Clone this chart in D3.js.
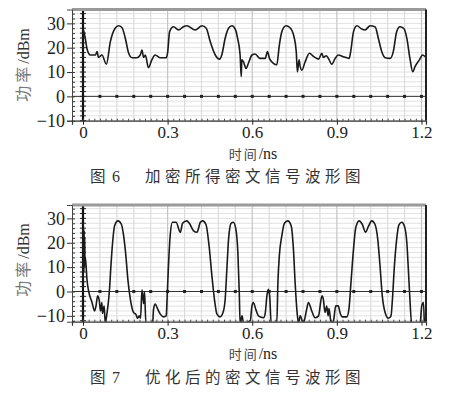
<!DOCTYPE html>
<html>
<head>
<meta charset="utf-8">
<script src="https://cdn.jsdelivr.net/npm/d3@7"></script>
<style>
  body { margin: 0; background: #fff; }
  svg { display: block; }
</style>
</head>
<body>
<div id="chart"></div>
<script>
// tick labels
const xTicks = [0, 0.3, 0.6, 0.9, 1.2]
const yTicks = [-10, 0, 10, 20, 30]

// fig 6: encrypted signal (time in ns, power in dBm)
const sig6Time = [0.000, 0.008, 0.014, 0.026, 0.044, 0.050, 0.055, 0.067, 0.083, 0.097, 0.114, 0.126, 0.138, 0.150, 0.162, 0.174, 0.191, 0.203, 0.209, 0.215, 0.221, 0.232, 0.244, 0.256, 0.274, 0.295, 0.300, 0.307, 0.321, 0.339, 0.356, 0.368, 0.398, 0.422, 0.437, 0.451, 0.469, 0.484, 0.492, 0.504, 0.516, 0.528, 0.540, 0.548, 0.557, 0.561, 0.563, 0.569, 0.578, 0.587, 0.599, 0.610, 0.628, 0.646, 0.654, 0.661, 0.675, 0.687, 0.696, 0.705, 0.720, 0.734, 0.748, 0.756, 0.760, 0.766, 0.770, 0.776, 0.787, 0.803, 0.817, 0.835, 0.847, 0.852, 0.862, 0.870, 0.882, 0.894, 0.905, 0.923, 0.944, 0.949, 0.959, 0.971, 0.988, 1.000, 1.018, 1.036, 1.047, 1.059, 1.071, 1.089, 1.100, 1.112, 1.124, 1.138, 1.148, 1.159, 1.169, 1.177, 1.192, 1.204, 1.213]
const sig6Power = [28, 23.9, 19.7, 17, 17, 18.4, 16, 17, 13.2, 22.5, 28, 29, 28.3, 23.9, 17.7, 15.9, 15.9, 17, 19, 16, 17, 11.8, 15, 17, 15.9, 15.9, 18, 26.6, 28.6, 27.3, 28.6, 29, 27.3, 29, 28, 22.5, 17, 15.3, 17, 23.9, 28, 29, 27.5, 23.9, 17, 8.1, 15, 14.2, 11.5, 13.8, 17, 17.4, 15.6, 15.6, 18.4, 15.6, 13.6, 13, 21, 26.6, 29, 28.2, 24.5, 18.4, 10.1, 15, 12.2, 10.8, 14, 17.7, 16.4, 15.3, 17.7, 16, 16.7, 15.6, 13.2, 15.6, 17, 16.3, 15.6, 18.4, 26.6, 29, 27.7, 27.3, 29, 28.5, 23.9, 18.4, 15.9, 15.6, 18.4, 26.6, 28.6, 27.8, 23.9, 15.6, 10.1, 12.2, 14.9, 17, 16.3]

// fig 7: optimised encrypted signal
const sig7Time = [0.000, 0.001, 0.002, 0.003, 0.004, 0.005, 0.006, 0.007, 0.008, 0.011, 0.014, 0.020, 0.032, 0.041, 0.046, 0.052, 0.058, 0.062, 0.067, 0.069, 0.075, 0.079, 0.085, 0.091, 0.094, 0.099, 0.105, 0.112, 0.124, 0.136, 0.144, 0.152, 0.159, 0.168, 0.179, 0.188, 0.193, 0.199, 0.204, 0.209, 0.215, 0.218, 0.223, 0.247, 0.250, 0.256, 0.264, 0.274, 0.286, 0.295, 0.298, 0.303, 0.309, 0.317, 0.330, 0.345, 0.353, 0.368, 0.377, 0.392, 0.404, 0.416, 0.424, 0.436, 0.447, 0.457, 0.466, 0.475, 0.486, 0.498, 0.504, 0.510, 0.516, 0.525, 0.533, 0.542, 0.549, 0.554, 0.557, 0.564, 0.569, 0.593, 0.599, 0.604, 0.613, 0.622, 0.640, 0.646, 0.652, 0.657, 0.662, 0.667, 0.687, 0.691, 0.696, 0.705, 0.714, 0.726, 0.738, 0.746, 0.752, 0.759, 0.764, 0.770, 0.781, 0.793, 0.799, 0.811, 0.823, 0.835, 0.847, 0.852, 0.858, 0.864, 0.869, 0.872, 0.880, 0.888, 0.896, 0.905, 0.911, 0.920, 0.935, 0.943, 0.950, 0.959, 0.967, 0.979, 0.990, 1.002, 1.011, 1.024, 1.035, 1.045, 1.053, 1.061, 1.071, 1.083, 1.092, 1.097, 1.104, 1.112, 1.120, 1.130, 1.139, 1.148, 1.154, 1.159, 1.165, 1.195, 1.201, 1.207, 1.210]
const sig7Power = [26, 4, 26, 8, 25, 10, 22, 12, 14, 10.5, 5, 0.2, -4.5, -8, -6, -1.8, -4, -8, -4.5, -9, -6, -13, -9, -3.2, 0.9, 10.5, 20.1, 27, 29, 27.6, 22.9, 14.6, 5, -3.2, -8.6, -9.5, -11, -10, -11, 0.7, -5, 0, -13, -13, -7.3, -5.2, -7, -9.3, -10.4, -10, -3.2, 10.5, 22.9, 28.4, 28.4, 24.3, 28, 29, 28, 24.9, 24.3, 28.4, 29, 27.5, 18.7, 6.4, -3.2, -9.3, -10.4, -8, -3.2, 9.1, 21.4, 28, 28.4, 25.5, 16, -0.4, -13, -10, -13, -12, -5.9, -4.5, -7.5, -10, -10.8, -9, -1.8, 0.9, -2, -13, -13, 3.7, 14.6, 22.9, 28, 29, 27, 17.4, 3.7, -8.6, -13, -10, -13, -7.3, -4.5, -8, -10.8, -10, -1.8, -3.2, -8.6, -6, -10, -7, -13, -12, -5.9, -5.9, -8.6, -10.4, -10.4, -7, 3.7, 17.4, 26.2, 29, 27.6, 24.3, 26.5, 29, 27.6, 21.4, 10.5, -1.8, -8.6, -11, -10, -3.2, 10.5, 21.4, 27.3, 28.4, 27, 20.1, 7.8, -3.2, -13, -13, -5.9, -4.5, -13]

const svg = d3.select("#chart")
  .append("svg")
    .attr("width", 450)
    .attr("height", 395)

svg.append("rect").attr("width", 450).attr("height", 395).attr("fill", "#fff")

const drawPanel = (opts) => {
  const x = d3.scaleLinear().domain([-0.039, 1.216]).range([72, 426])
  const y = d3.scaleLinear().domain(opts.yDomain).range([opts.bottom, opts.top])
  const g = svg.append("g")
  const [x0, x1] = x.range()

  // clip for the trace
  g.append("clipPath").attr("id", opts.id + "-clip")
    .append("rect")
      .attr("x", x0).attr("y", opts.top)
      .attr("width", x1 - x0).attr("height", opts.bottom - opts.top)

  // horizontal grid every 2 dB
  const hGrid = d3.range(Math.ceil(opts.yDomain[0] / 2) * 2, opts.yDomain[1], 2)
  g.selectAll(".hgrid").data(hGrid).join("line")
    .attr("x1", x0).attr("x2", x1)
    .attr("y1", d => y(d)).attr("y2", d => y(d))
    .attr("stroke", "#e2e2e2").attr("stroke-width", 1)

  // vertical grid every 0.06 ns
  const vGrid = d3.range(0.06, 1.22, 0.06)
  g.selectAll(".vgrid").data(vGrid).join("line")
    .attr("x1", d => x(d)).attr("x2", d => x(d))
    .attr("y1", opts.top).attr("y2", opts.bottom)
    .attr("stroke", d => Math.abs(d / 0.3 - Math.round(d / 0.3)) < 0.01 ? "#c4c4c4" : "#dcdcdc")
    .attr("stroke-width", 1.2)

  // zero line with dots
  g.append("line")
    .attr("x1", x0).attr("x2", x1)
    .attr("y1", y(0)).attr("y2", y(0))
    .attr("stroke", "#333").attr("stroke-width", 1)
  g.selectAll(".dot").data(vGrid).join("rect")
    .attr("x", d => x(d) - 1.5).attr("y", y(0) - 1.5)
    .attr("width", 3).attr("height", 3)
    .attr("fill", "#222")

  // vertical axis through t = 0 with small ticks
  g.append("line")
    .attr("x1", x(0)).attr("x2", x(0))
    .attr("y1", opts.top).attr("y2", opts.bottom)
    .attr("stroke", "#111").attr("stroke-width", 2.2)
  g.selectAll(".ztick").data(hGrid).join("line")
    .attr("x1", x(0) - 3).attr("x2", x(0) + 3)
    .attr("y1", d => y(d)).attr("y2", d => y(d))
    .attr("stroke", "#222").attr("stroke-width", 1)

  // the trace
  g.append("path")
    .datum(opts.time.map((t, i) => ({ t: t, p: opts.power[i] })))
      .attr("clip-path", `url(#${opts.id}-clip)`)
      .attr("fill", "none")
      .attr("stroke", "#1a1a1a")
      .attr("stroke-width", 1.6)
      .attr("stroke-linejoin", "round")
      .attr("d", d3.line()
                   .curve(d3.curveMonotoneX)
                   .x(d => x(d.t))
                   .y(d => y(d.p)))

  // frame
  g.append("line").attr("x1", x0).attr("x2", x1).attr("y1", opts.top).attr("y2", opts.top)
    .attr("stroke", "#9a9a9a").attr("stroke-width", 3)
  g.append("line").attr("x1", x1).attr("x2", x1).attr("y1", opts.top).attr("y2", opts.bottom)
    .attr("stroke", "#222").attr("stroke-width", 2)

  // left axis
  g.append("g")
    .attr("transform", `translate(${x0},0)`)
    .call(d3.axisLeft(y).tickValues(hGrid).tickSize(-3).tickFormat(""))
    .call(a => a.select(".domain").remove())
    .selectAll("line").attr("stroke", "#333")
  const yAxis = g.append("g")
    .attr("transform", `translate(${x0},0)`)
    .call(d3.axisLeft(y).tickValues(yTicks).tickSize(5).tickPadding(2)
      .tickFormat(d => d < 0 ? "\u2212" + Math.abs(d) : d))
  yAxis.select(".domain").attr("stroke", "#444")
  yAxis.selectAll("line").attr("stroke", "#333")
  yAxis.selectAll("text")
    .attr("font-family", "'Liberation Serif', serif")
    .attr("font-size", 18)
    .attr("fill", "#222")

  // bottom axis
  g.append("g")
    .attr("transform", `translate(0,${opts.bottom})`)
    .call(d3.axisBottom(x).tickValues(d3.range(0, 1.21, 0.02)).tickSize(-2).tickFormat(""))
    .call(a => a.select(".domain").remove())
    .selectAll("line").attr("stroke", "#444")
  const xAxis = g.append("g")
    .attr("transform", `translate(0,${opts.bottom})`)
    .call(d3.axisBottom(x).tickValues(xTicks).tickSize(4).tickPadding(1).tickFormat(d3.format(".1f")))
    .call(a => a.selectAll("text").filter(d => d === 0).text("0"))
  xAxis.select(".domain").attr("stroke", "#333").attr("stroke-width", 1.2)
  xAxis.selectAll("line").attr("stroke", "#222")
  xAxis.selectAll("text")
    .attr("font-family", "'Liberation Serif', serif")
    .attr("font-size", 17)
    .attr("fill", "#222")

  // y label
  const yl = g.append("text")
    .attr("transform", `translate(29,${opts.yLabelCenter}) rotate(-90)`)
    .attr("text-anchor", "middle")
    .attr("font-size", 16)
  yl.append("tspan").attr("font-family", "'Noto Sans CJK SC', sans-serif").attr("fill", "#777").attr("letter-spacing", 3).text("功率")
  yl.append("tspan").attr("font-family", "'Liberation Serif', serif").attr("fill", "#333").text("/dBm")

  // x label
  const xl = g.append("text")
    .attr("x", 253).attr("y", opts.xLabelY)
    .attr("text-anchor", "middle")
    .attr("font-size", 13)
  xl.append("tspan").attr("font-family", "'Noto Sans CJK SC', sans-serif").attr("fill", "#444").attr("letter-spacing", 2).text("时间")
  xl.append("tspan").attr("font-family", "'Liberation Serif', serif").attr("fill", "#222").attr("font-size", 16).text("/ns")

  // caption
  g.append("text")
    .attr("x", 90).attr("y", opts.captionY)
    .attr("font-family", "'Noto Sans CJK SC', sans-serif")
    .attr("font-size", 15.5)
    .attr("fill", "#333")
    .text("图")
  g.append("text")
    .attr("x", 112).attr("y", opts.captionY)
    .attr("font-family", "'Liberation Serif', serif")
    .attr("font-size", 16)
    .attr("fill", "#333")
    .text(opts.figNo)
  g.append("text")
    .attr("x", 145).attr("y", opts.captionY)
    .attr("font-family", "'Noto Sans CJK SC', sans-serif")
    .attr("font-size", 15.5)
    .attr("letter-spacing", 4.5)
    .attr("fill", "#333")
    .text(opts.caption)
}

drawPanel({
  id: "fig6", top: 9.5, bottom: 120.7, yDomain: [-10, 35.7],
  time: sig6Time, power: sig6Power,
  yLabelCenter: 65, xLabelY: 158.5, captionY: 182,
  figNo: "6", caption: "加密所得密文信号波形图"
})

drawPanel({
  id: "fig7", top: 205, bottom: 321.7, yDomain: [-12.4, 35.5],
  time: sig7Time, power: sig7Power,
  yLabelCenter: 260, xLabelY: 359, captionY: 383,
  figNo: "7", caption: "优化后的密文信号波形图"
})
</script>
</body>
</html>
